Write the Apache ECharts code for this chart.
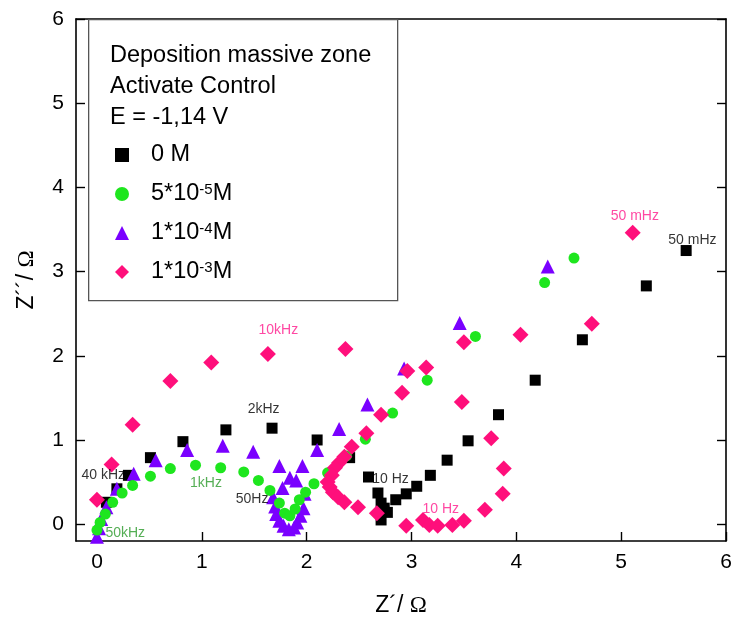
<!DOCTYPE html>
<html>
<head>
<meta charset="utf-8">
<script src="https://cdn.jsdelivr.net/npm/echarts@6/dist/echarts.min.js"></script>
<style>
  html, body { margin: 0; padding: 0; background: #fff; }
  #chart { width: 735px; height: 622px; }
</style>
</head>
<body>
<div id="chart"></div>
<script>
// Axis ticks
const xTicks = [0, 1, 2, 3, 4, 5, 6];
const yTicks = [0, 1, 2, 3, 4, 5, 6];

// Nyquist data [Z', Z''] in ohm
const conc0M = [
  [0.09, 0.26], [0.19, 0.42], [0.30, 0.58], [0.51, 0.79], [0.82, 0.98], [1.23, 1.12],
  [1.67, 1.14], [2.10, 1.00], [2.41, 0.79], [2.59, 0.56], [2.68, 0.37], [2.71, 0.25],
  [2.74, 0.19], [2.77, 0.14], [2.71, 0.05], [2.85, 0.29], [2.95, 0.36], [3.05, 0.45],
  [3.18, 0.58], [3.34, 0.76], [3.54, 0.99], [3.83, 1.30], [4.18, 1.71], [4.63, 2.19],
  [5.24, 2.83], [5.62, 3.25]
];
const conc5e5M = [
  [0.00, -0.07], [0.03, 0.02], [0.08, 0.12], [0.15, 0.26], [0.24, 0.37], [0.34, 0.46],
  [0.51, 0.57], [0.70, 0.66], [0.94, 0.70], [1.18, 0.67], [1.40, 0.62], [1.54, 0.52],
  [1.65, 0.40], [1.74, 0.25], [1.79, 0.13], [1.84, 0.10], [1.89, 0.18], [1.93, 0.29],
  [1.99, 0.38], [2.07, 0.48], [2.20, 0.61], [2.38, 0.81], [2.56, 1.01], [2.82, 1.32],
  [3.15, 1.71], [3.61, 2.23], [4.27, 2.87], [4.55, 3.16]
];
const conc1e4M = [
  [0.00, -0.15], [0.02, -0.05], [0.04, 0.06], [0.09, 0.20], [0.19, 0.42], [0.35, 0.60],
  [0.56, 0.76], [0.86, 0.88], [1.20, 0.93], [1.49, 0.86], [1.74, 0.69], [1.96, 0.69],
  [1.84, 0.55], [1.90, 0.52], [1.77, 0.43], [1.98, 0.36], [1.68, 0.32], [1.70, 0.21],
  [1.71, 0.12], [1.74, 0.04], [1.78, -0.02], [1.83, -0.06], [1.88, -0.04], [1.91, 0.02],
  [1.94, 0.10], [1.97, 0.19], [2.10, 0.88], [2.31, 1.13], [2.58, 1.42], [2.93, 1.85],
  [3.46, 2.39], [4.30, 3.06]
];
const conc1e3M = [
  [0.00, 0.29], [0.14, 0.71], [0.34, 1.18], [0.70, 1.70], [1.09, 1.92], [1.63, 2.02],
  [2.37, 2.08], [2.71, 1.30], [2.57, 1.08], [2.43, 0.92], [2.36, 0.80], [2.31, 0.73],
  [2.27, 0.67], [2.24, 0.58], [2.20, 0.50], [2.22, 0.44], [2.25, 0.38], [2.30, 0.32],
  [2.36, 0.26], [2.49, 0.20], [2.67, 0.13], [2.95, -0.02], [3.11, 0.05], [3.17, -0.01],
  [3.25, -0.02], [3.39, -0.01], [3.50, 0.04], [3.70, 0.17], [3.87, 0.36], [3.88, 0.66],
  [3.76, 1.02], [3.48, 1.45], [2.91, 1.56], [2.96, 1.82], [3.14, 1.86], [3.50, 2.16],
  [4.04, 2.25], [4.72, 2.38], [5.11, 3.46]
];

// Frequency annotations [text, Z', Z'']
const notesBlack = [['2kHz', 1.59, 1.37], ['40 kHz', 0.06, 0.58], ['50Hz', 1.48, 0.30],
                    ['10 Hz', 2.80, 0.54], ['50 mHz', 5.68, 3.37]];
const notesGreen = [['1kHz', 1.04, 0.49], ['50kHz', 0.27, -0.11]];
const notesPink = [['10kHz', 1.73, 2.31], ['10 Hz', 3.28, 0.18], ['50 mHz', 5.13, 3.66]];

const seriesNames = ['0 M', '5*10^-5M', '1*10^-4M', '1*10^-3M'];
const headerLines = ['Deposition massive zone', 'Activate Control', 'E = -1,14 V'];

const FONT = '"Liberation Sans", Arial, sans-serif';
const SERIF = '"Liberation Serif", "Times New Roman", serif';
const C_BLACK = '#000000', C_GREEN = '#1ee61e', C_PURPLE = '#7a00ff', C_PINK = '#ff0f7b';

function supLabel(name) {
  return '{n|' + name.replace(/\^(-?\d+)/, '}{s|$1}{n|') + '}';
}

function noteSeries(notes, color) {
  return {
    type: 'scatter',
    name: 'note-' + color,
    symbolSize: 0,
    silent: true,
    z: 10,
    data: notes.map(n => ({ name: n[0], value: [n[1], n[2]] })),
    label: {
      show: true, position: 'inside', formatter: p => p.name,
      color: color, fontSize: 14, fontFamily: FONT
    }
  };
}

const chart = echarts.init(document.getElementById('chart'), null, { renderer: 'canvas' });

const axisLine = { show: true, onZero: false, lineStyle: { color: '#000', width: 1.6 } };
const tickStyle = { color: '#000', width: 1.4 };
const titleRich = {
  a: { fontSize: 23, fontFamily: FONT, color: '#000' },
  b: { fontSize: 23, fontFamily: SERIF, color: '#000' }
};

chart.setOption({
  animation: false,
  backgroundColor: '#fff',
  grid: { left: 76, right: 9, top: 19, bottom: 81, containLabel: false },
  xAxis: [
    {
      type: 'value', min: -0.2, max: 6, position: 'bottom',
      axisLine: axisLine,
      axisTick: { show: true, inside: true, length: 9, customValues: xTicks, lineStyle: tickStyle },
      axisLabel: { customValues: xTicks, margin: 11, color: '#000', fontSize: 21, fontFamily: FONT },
      splitLine: { show: false },
      name: '{a|Z\u00b4/ }{b|\u03a9}', nameLocation: 'middle', nameGap: 53,
      nameTextStyle: { rich: titleRich }
    },
    {
      type: 'value', min: -0.2, max: 6, position: 'top',
      axisLine: axisLine, axisTick: { show: false }, axisLabel: { show: false }, splitLine: { show: false }
    }
  ],
  yAxis: [
    {
      type: 'value', min: -0.2, max: 6, position: 'left',
      axisLine: axisLine,
      axisTick: { show: true, inside: true, length: 9, customValues: yTicks, lineStyle: tickStyle },
      axisLabel: { customValues: yTicks, margin: 12, color: '#000', fontSize: 21, fontFamily: FONT },
      splitLine: { show: false },
      name: '{a|Z\u00b4\u00b4/ }{b|\u03a9}', nameLocation: 'middle', nameGap: 38,
      nameTextStyle: { rich: titleRich }
    },
    {
      type: 'value', min: -0.2, max: 6, position: 'right',
      axisLine: axisLine,
      axisTick: { show: true, inside: true, length: 9, customValues: yTicks, lineStyle: tickStyle },
      axisLabel: { show: false }, splitLine: { show: false }
    }
  ],
  legend: {
    data: seriesNames,
    orient: 'vertical',
    left: 110, top: 138,
    itemWidth: 14, itemHeight: 14, itemGap: 15,
    selectedMode: false,
    formatter: supLabel,
    itemStyle: { opacity: 1 },
    textStyle: {
      padding: [0, 0, 0, 17],
      rich: {
        n: { fontSize: 23.5, fontFamily: FONT, color: '#000', lineHeight: 24 },
        s: { fontSize: 15, fontFamily: FONT, color: '#000', lineHeight: 15, verticalAlign: 'top', padding: [0, 0, 8, 0] }
      }
    }
  },
  graphic: [
    { type: 'rect', left: 88, top: 19, z: 5,
      shape: { width: 309, height: 281 },
      style: { fill: 'rgba(0,0,0,0)', stroke: '#555', lineWidth: 1.3 } }
  ].concat(headerLines.map((t, i) => ({
    type: 'text', left: 110, top: 44 + i * 31, z: 6,
    style: { text: t, fill: '#000', font: '23.5px ' + FONT }
  }))),
  series: [
    { type: 'scatter', name: seriesNames[0], data: conc0M, symbol: 'rect', symbolSize: 11,
      itemStyle: { color: C_BLACK, opacity: 1 }, z: 2 },
    { type: 'scatter', name: seriesNames[2], data: conc1e4M, symbol: 'triangle', symbolSize: 14,
      itemStyle: { color: C_PURPLE, opacity: 1 }, z: 3 },
    { type: 'scatter', name: seriesNames[1], data: conc5e5M, symbol: 'circle', symbolSize: 11,
      itemStyle: { color: C_GREEN, opacity: 1 }, z: 4 },
    { type: 'scatter', name: seriesNames[3], data: conc1e3M, symbol: 'diamond', symbolSize: 16,
      itemStyle: { color: C_PINK, opacity: 1 }, z: 5 },
    noteSeries(notesBlack, '#000000'),
    noteSeries(notesGreen, '#2a9a2a'),
    noteSeries(notesPink, '#ff1a8c')
  ]
});
</script>
</body>
</html>
